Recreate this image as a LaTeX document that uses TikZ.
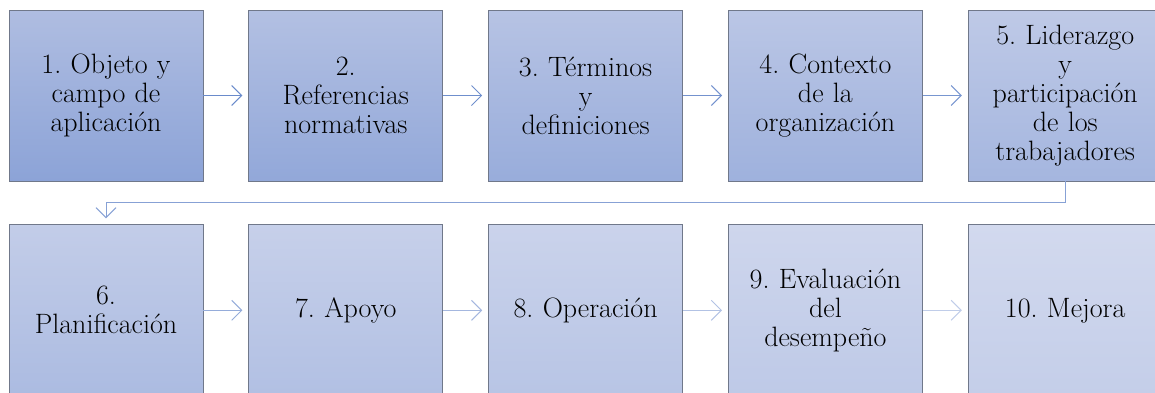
\documentclass[tikz,border=0pt]{standalone}
\usepackage{fontspec}
\usetikzlibrary{positioning,arrows.meta}

\definecolor{topA}{HTML}{AFBDE1}
\definecolor{botA}{HTML}{8CA3D7}
\definecolor{topB}{HTML}{D2D9EE}
\definecolor{botB}{HTML}{C4CEE9}
\definecolor{arrA}{HTML}{6A8BCB}
\definecolor{arrB}{HTML}{CAD4EC}
\definecolor{borde}{HTML}{70788A}

\tikzset{
  paso/.style={draw=borde, line width=0.8pt, minimum width=194pt, minimum height=171pt,
    text width=190pt, align=center, inner sep=0pt,
    top color=topB!#1!topA, bottom color=botB!#1!botA,
    font=\frenchspacing\fontsize{28}{29}\selectfont},
  flecha/.style={draw=arrB!#1!arrA, line width=1pt,
    -{Straight Barb[length=10pt,width=20pt]}, shorten >=6pt}
}

\begin{document}
\begin{tikzpicture}[x=1pt, y=1pt]

\useasboundingbox (0,0) rectangle (1155,-392);

% first row
\node[paso=0] (b1) at (106,-95.5) {1. Objeto y\\campo de\\aplicación};
\node[paso=11, right=45pt of b1] (b2) {2.\\Referencias\\normativas};
\node[paso=22, right=45pt of b2] (b3) {3. Términos\\y\\definiciones};
\node[paso=33, right=45pt of b3] (b4) {4. Contexto\\de la\\organización};
\node[paso=44, right=45pt of b4] (b5) {5. Liderazgo\\y\\participación\\de los\\trabajadores};

% second row
\node[paso=56, below=43pt of b1] (b6) {6.\\Planificación};
\node[paso=67, right=45pt of b6] (b7) {7. Apoyo};
\node[paso=78, right=45pt of b7] (b8) {8. Operación};
\node[paso=89, right=45pt of b8] (b9) {9. Evaluación\\del\\desempeño};
\node[paso=100, right=45pt of b9] (b10) {10. Mejora};

\draw[flecha=0] (b1.east) -- (b2.west);
\draw[flecha=5] (b2.east) -- (b3.west);
\draw[flecha=10] (b3.east) -- (b4.west);
\draw[flecha=15] (b4.east) -- (b5.west);
\draw[flecha=30] (b5.south) -- ++(0,-21.5) -| (b6.north);
\draw[flecha=45] (b6.east) -- (b7.west);
\draw[flecha=60] (b7.east) -- (b8.west);
\draw[flecha=75] (b8.east) -- (b9.west);
\draw[flecha=90] (b9.east) -- (b10.west);

\end{tikzpicture}
\end{document}
